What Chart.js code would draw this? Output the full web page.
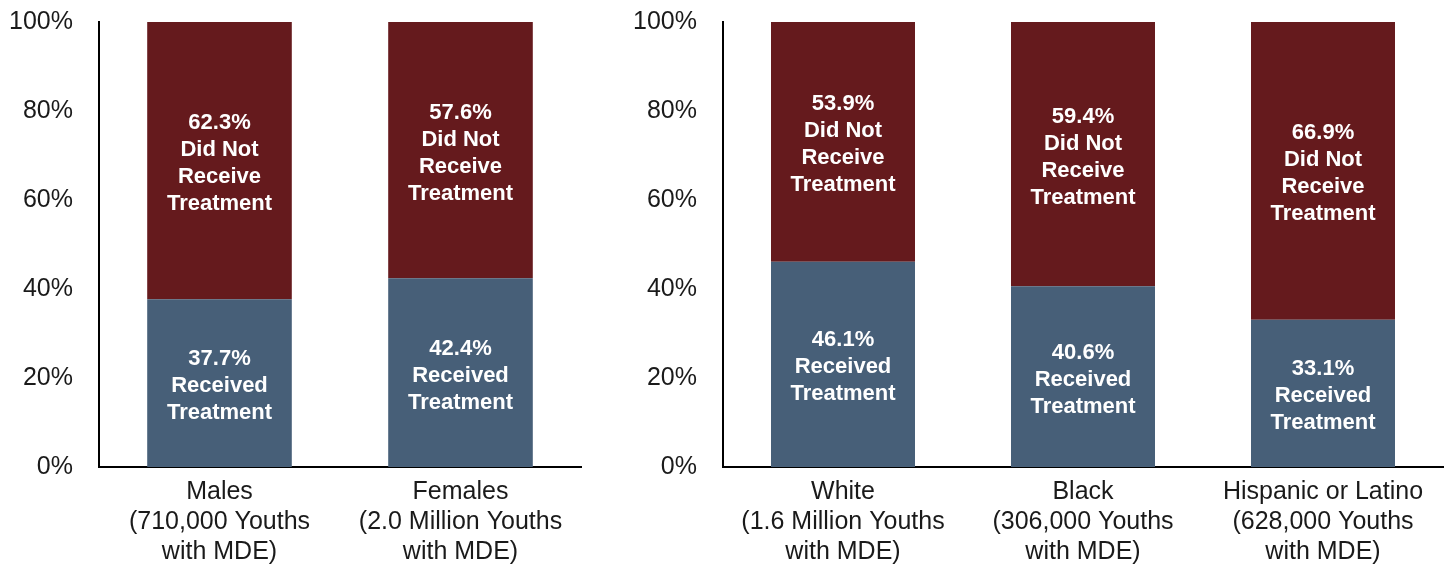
<!DOCTYPE html>
<html>
<head>
<meta charset="utf-8">
<script src="https://cdn.jsdelivr.net/npm/chart.js@4"></script>
<style>
  body { margin: 0; background: #fff; }
  #left { position: absolute; left: 0; top: 0; }
  #right { position: absolute; left: 624px; top: 0; }
</style>
</head>
<body>
<canvas id="left" width="600" height="565"></canvas>
<canvas id="right" width="823" height="565"></canvas>
<script>
// Werte
var sexGroups = [
  ['Males', '(710,000 Youths', 'with MDE)'],
  ['Females', '(2.0 Million Youths', 'with MDE)']
];
var sexReceived = [37.7, 42.4];
var sexNotReceived = [62.3, 57.6];

var raceGroups = [
  ['White', '(1.6 Million Youths', 'with MDE)'],
  ['Black', '(306,000 Youths', 'with MDE)'],
  ['Hispanic or Latino', '(628,000 Youths', 'with MDE)']
];
var raceReceived = [46.1, 40.6, 33.1];
var raceNotReceived = [53.9, 59.4, 66.9];

var yTicks = [0, 20, 40, 60, 80, 100];

var blue = '#475f78';
var red = '#651a1d';
var font = '"Liberation Sans", Arial, Helvetica, sans-serif';

// eigene Beschriftung in den Balken
var barLabels = {
  id: 'barLabels',
  afterDatasetsDraw: function (chart) {
    var c = chart.ctx;
    c.save();
    c.fillStyle = '#fff';
    c.font = 'bold 22px ' + font;
    c.textAlign = 'center';
    c.textBaseline = 'middle';
    chart.data.datasets.forEach(function (ds, i) {
      var meta = chart.getDatasetMeta(i);
      meta.data.forEach(function (bar, j) {
        var lines = [ds.data[j].toFixed(1) + '%'].concat(ds.words);
        var mid = (bar.y + bar.base) / 2 + 3;
        var lh = 27;
        var start = mid - (lines.length - 1) * lh / 2;
        lines.forEach(function (t, k) {
          c.fillText(t, bar.x, start + k * lh);
        });
      });
    });
    c.restore();
  }
};

function makeChart(id, labels, received, notReceived, rightPad) {
  return new Chart(document.getElementById(id), {
    type: 'bar',
    data: {
      labels: labels,
      datasets: [
        { label: 'Received Treatment', data: received, backgroundColor: blue, words: ['Received', 'Treatment'] },
        { label: 'Did Not Receive Treatment', data: notReceived, backgroundColor: red, words: ['Did Not', 'Receive', 'Treatment'] }
      ]
    },
    options: {
      responsive: false,
      animation: false,
      layout: { padding: { top: 22, right: rightPad, left: 0, bottom: 0 } },
      plugins: { legend: { display: false }, tooltip: { enabled: false } },
      datasets: { bar: { categoryPercentage: 0.6, barPercentage: 1 } },
      scales: {
        x: {
          stacked: true,
          grid: { display: false, drawTicks: false },
          border: { display: true, color: '#000', width: 2 },
          ticks: {
            padding: 10,
            color: '#1a1a1a',
            maxRotation: 0,
            autoSkip: false,
            font: { family: font, size: 25, lineHeight: 1.2 }
          },
          afterFit: function (s) { s.height = 98; }
        },
        y: {
          stacked: true,
          min: 0,
          max: 100,
          afterBuildTicks: function (s) {
            s.ticks = yTicks.map(function (v) { return { value: v }; });
          },
          grid: { display: false, drawTicks: false },
          border: { display: true, color: '#000', width: 2 },
          ticks: {
            padding: 26,
            color: '#1a1a1a',
            font: { family: font, size: 25 },
            callback: function (v) { return v + '%'; }
          },
          afterFit: function (s) {
            s.width = 99;
            s.paddingTop = 0;
            s.paddingBottom = 0;
          }
        }
      }
    },
    plugins: [barLabels]
  });
}

makeChart('left', sexGroups, sexReceived, sexNotReceived, 19);
makeChart('right', raceGroups, raceReceived, raceNotReceived, 4);
</script>
</body>
</html>
